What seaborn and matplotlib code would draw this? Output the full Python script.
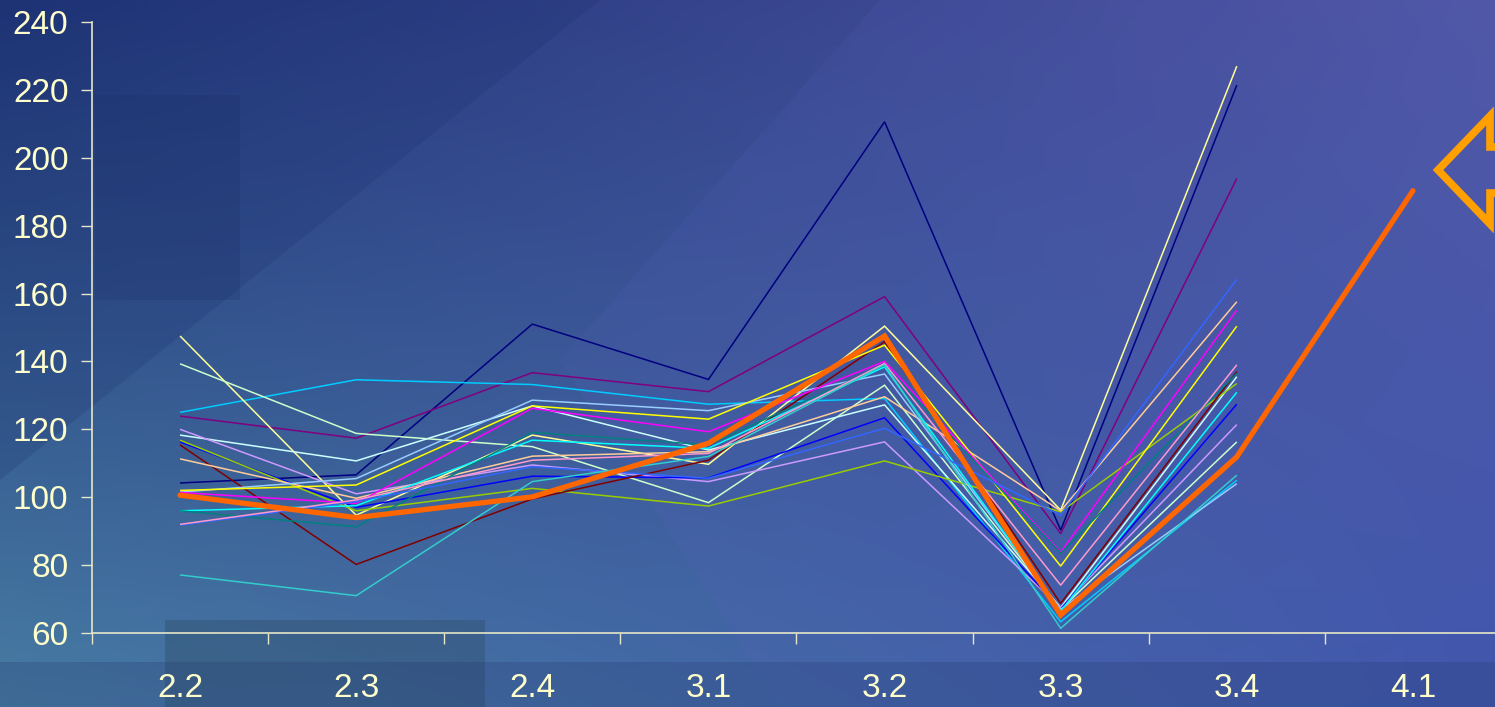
import numpy as np
import pandas as pd
import matplotlib
matplotlib.use("Agg")
import matplotlib.pyplot as plt
import seaborn as sns
from matplotlib.patches import Polygon
from matplotlib.lines import Line2D

# categories on the x axis
categories = ["2.2", "2.3", "2.4", "3.1", "3.2", "3.3", "3.4", "4.1"]

# thin series (2.2 .. 3.4)
navy = [104.2, 106.6, 151.0, 134.7, 210.6, 90.3, 221.4]
purple = [123.9, 117.4, 136.7, 131.1, 159.1, 89.3, 193.9]
sky_blue = [125.0, 134.6, 133.2, 127.4, 129.1, 63.3, 105.0]
light_yellow = [147.5, 94.7, 118.3, 109.7, 150.4, 96.2, 227.0]
light_green = [139.3, 118.8, 114.9, 98.4, 133.0, 67.0, 116.3]
light_cyan = [118.3, 110.7, 126.9, 113.9, 127.2, 67.5, 135.5]
lavender = [120.0, 101.0, 109.5, 104.6, 116.3, 67.5, 121.4]
blue = [116.3, 97.0, 106.2, 105.7, 123.4, 67.0, 127.4]
lime = [116.8, 96.0, 102.6, 97.4, 110.7, 95.7, 133.5]
dark_red = [115.4, 80.2, 99.5, 110.9, 145.8, 68.7, 137.0]
tan = [111.3, 99.7, 112.1, 113.4, 129.6, 96.0, 157.6]
pale_blue = [101.5, 105.5, 128.6, 125.5, 136.3, 67.0, 104.0]
yellow = [102.0, 103.6, 126.9, 123.0, 144.8, 79.7, 150.4]
magenta = [101.4, 98.2, 126.2, 119.3, 140.0, 83.8, 155.1]
cyan = [96.0, 97.5, 116.8, 114.4, 138.4, 66.5, 130.9]
teal = [96.0, 91.3, 119.1, 115.4, 138.9, 83.5, 136.5]
royal_blue = [91.8, 98.7, 109.0, 105.6, 120.3, 94.7, 164.2]
rose = [92.0, 99.2, 110.9, 112.9, 139.4, 74.1, 139.0]
aqua = [77.1, 71.0, 104.6, 112.0, 139.0, 61.4, 106.5]
# thick highlighted series, goes on to 4.1
highlight = [100.6, 94.0, 100.1, 115.9, 147.5, 65.3, 111.9, 190.3]

series = {
    "navy": (navy, "#000080"),
    "purple": (purple, "#800080"),
    "sky_blue": (sky_blue, "#00CCFF"),
    "light_yellow": (light_yellow, "#FFFF99"),
    "light_green": (light_green, "#CCFFCC"),
    "light_cyan": (light_cyan, "#CCFFFF"),
    "lavender": (lavender, "#CC99FF"),
    "blue": (blue, "#0000FF"),
    "lime": (lime, "#99CC00"),
    "dark_red": (dark_red, "#800000"),
    "tan": (tan, "#FFCC99"),
    "pale_blue": (pale_blue, "#99CCFF"),
    "yellow": (yellow, "#FFFF00"),
    "magenta": (magenta, "#FF00FF"),
    "cyan": (cyan, "#00FFFF"),
    "teal": (teal, "#008080"),
    "royal_blue": (royal_blue, "#3366FF"),
    "rose": (rose, "#FF99CC"),
    "aqua": (aqua, "#33CCCC"),
    "highlight": (highlight, "#FF6600"),
}

rows = []
for name, (vals, col) in series.items():
    for cat, v in zip(categories, vals):
        rows.append({"cat": cat, "value": v, "series": name})
df = pd.DataFrame(rows)

palette = {name: col for name, (vals, col) in series.items()}
sizes = {name: (3.8 if name == "highlight" else 1.1) for name in series}

W, H = 1495, 707
fig = plt.figure(figsize=(W / 100, H / 100), dpi=100)

# background: blue gradient with a few soft shapes
bg = fig.add_axes([0, 0, 1, 1])
bg.set_axis_off()
yy, xx = np.mgrid[0:1:200j, 0:1:400j]
tl = np.array([30, 52, 118]); tr = np.array([80, 86, 165])
bl = np.array([72, 124, 164]); br = np.array([62, 86, 170])
img = ((1 - xx)[..., None] * (1 - yy)[..., None] * tl + xx[..., None] * (1 - yy)[..., None] * tr
       + (1 - xx)[..., None] * yy[..., None] * bl + xx[..., None] * yy[..., None] * br) / 255
bg.imshow(img, extent=[0, W, H, 0], aspect="auto")
bg.add_patch(Polygon([(0, 0), (600, 0), (0, 480)], closed=True, color="#1c3070", alpha=0.22, lw=0))
bg.add_patch(Polygon([(95, 95), (240, 95), (240, 300), (95, 300)], closed=True, color="#1a2f66", alpha=0.22, lw=0))
bg.add_patch(Polygon([(560, 360), (880, 0), (1495, 0), (1495, 707), (780, 707)], closed=True,
                     color="#5a64c0", alpha=0.14, lw=0))
bg.add_patch(Polygon([(165, 620), (485, 620), (485, 707), (165, 707)], closed=True, color="#2e4d68", alpha=0.4, lw=0))
bg.add_patch(Polygon([(0, 662), (1495, 662), (1495, 707), (0, 707)], closed=True, color="#24386e", alpha=0.25, lw=0))
bg.set_xlim(0, W)
bg.set_ylim(H, 0)

# plot area (runs slightly past the right edge like the original)
ax = fig.add_axes([92 / W, 1 - 633 / H, 1409 / W, 611 / H])
ax.patch.set_alpha(0)

sns.lineplot(data=df, x="cat", y="value", hue="series", palette=palette,
             size="series", sizes=sizes, hue_order=list(series), size_order=list(series),
             legend=False, sort=False, ax=ax)
for line in ax.lines:
    line.set_solid_joinstyle("miter")
    line.set_solid_capstyle("butt")
ax.lines[-1].set_solid_capstyle("round")
ax.lines[-1].set_zorder(5)

ax.set_xlim(-0.5, len(categories) - 0.5)
ax.set_ylim(60, 240)
ax.set_xlabel("")
ax.set_ylabel("")

label_color = "#FFFFCC"
axis_color = "#E6E6C8"
ax.set_xticks(np.arange(-0.5, len(categories), 1.0))
ax.set_xticklabels([])
ax.set_xticks(np.arange(len(categories)), minor=True)
ax.set_xticklabels(categories, minor=True)
ax.tick_params(axis="x", which="major", direction="out", length=8, width=1, color=axis_color)
ax.tick_params(axis="x", which="minor", length=0, pad=29, labelsize=24, labelcolor=label_color)
ax.set_yticks(np.arange(60, 241, 20))
ax.tick_params(axis="y", direction="out", length=8, width=1, color=axis_color,
               pad=9, labelsize=24, labelcolor=label_color)
for lab in ax.get_xticklabels(minor=True) + ax.get_yticklabels():
    lab.set_family("Liberation Sans")

for side in ["top", "right"]:
    ax.spines[side].set_visible(False)
for side in ["left", "bottom"]:
    ax.spines[side].set_color(axis_color)
    ax.spines[side].set_linewidth(1.2)

# orange double-arrow outline at the right edge (cut off by the frame)
arrow_x = [1500, 1490, 1490, 1438, 1490, 1490, 1500]
arrow_y = [147, 147, 116, 170, 224, 193, 193]
fig.add_artist(Line2D([x / W for x in arrow_x], [1 - y / H for y in arrow_y],
                      transform=fig.transFigure, color="#FFA000", lw=5.5,
                      solid_joinstyle="miter"))

fig.savefig("out.png", dpi=100)
